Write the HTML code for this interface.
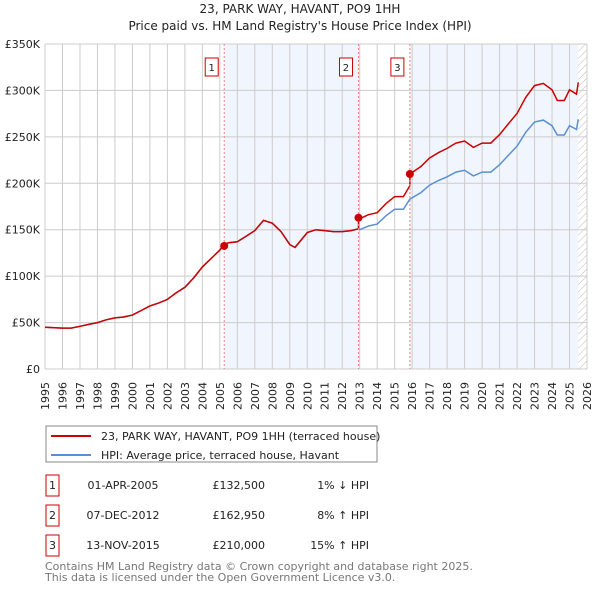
<!DOCTYPE html>
<html><head><meta charset="utf-8"><style>
body{margin:0;background:#fff;font-family:"Liberation Sans","DejaVu Sans",sans-serif;}
svg text{font-family:"DejaVu Sans","Liberation Sans",sans-serif;}
</style></head><body>
<svg id="c" width="600" height="590" xmlns="http://www.w3.org/2000/svg">
<text x="300" y="13" text-anchor="middle" font-size="12" fill="#222">23, PARK WAY, HAVANT, PO9 1HH</text>
<text x="300" y="30" text-anchor="middle" font-size="12" fill="#222">Price paid vs. HM Land Registry's House Price Index (HPI)</text>
<defs><pattern id="hatch" width="5" height="5" patternUnits="userSpaceOnUse" patternTransform="rotate(45)"><line x1="0" y1="0" x2="0" y2="5" stroke="#bbb" stroke-width="1"/></pattern></defs>
<g id="bg"></g><g id="grid"></g><g id="axes"></g><g id="lines"></g><g id="marks"></g>
<g>
<rect x="46" y="426" width="331" height="36" fill="#fff" stroke="#888"/>
<line x1="51" y1="436" x2="91" y2="436" stroke="#cc0000" stroke-width="2"/>
<text x="101" y="440" font-size="11" fill="#222">23, PARK WAY, HAVANT, PO9 1HH (terraced house)</text>
<line x1="51" y1="455" x2="91" y2="455" stroke="#5b8fd4" stroke-width="2"/>
<text x="101" y="459" font-size="11" fill="#222">HPI: Average price, terraced house, Havant</text>
</g>
<g id="table" font-size="11" fill="#222"></g>
<text x="45" y="570" font-size="11" fill="#777">Contains HM Land Registry data © Crown copyright and database right 2025.</text>
<text x="45" y="581" font-size="11" fill="#777">This data is licensed under the Open Government Licence v3.0.</text>
</svg>
<script>
const hpiT=[1995,1996,1996.5,1997,1997.5,1998,1998.5,1999,1999.5,2000,2000.5,2001,2001.5,2002,2002.5,2003,2003.5,2004,2004.5,2005,2005.25,2005.5,2006,2006.5,2007,2007.5,2008,2008.5,2009,2009.3,2009.7,2010,2010.5,2011,2011.5,2012,2012.5,2012.93,2013,2013.5,2014,2014.5,2015,2015.5,2015.87,2016.5,2017,2017.5,2018,2018.5,2019,2019.5,2020,2020.5,2021,2021.5,2022,2022.5,2023,2023.5,2024,2024.3,2024.7,2025,2025.4,2025.5];
const hpiV=[45,44,44,46,48,50,53,55,56,58,63,68,71,75,82,88,98,110,119,128,134,136,137,143,149,160,157,148,134,131,140,147,150,149,148,148,149,151,150,154,156,165,172,172,183,190,198,203,207,212,214,208,212,212,220,230,240,255,266,268,262,252,252,262,258,269];
const saleT=[2005.25,2012.93,2015.87];
const saleV=[132.5,162.95,210];
const saleLabel=["1","2","3"];
const saleDate=["01-APR-2005","07-DEC-2012","13-NOV-2015"];
const salePrice=["£132,500","£162,950","£210,000"];
const saleDiff=["1% ↓ HPI","8% ↑ HPI","15% ↑ HPI"];
const yTicks=[0,50,100,150,200,250,300,350];
const yTickLabels=["£0","£50K","£100K","£150K","£200K","£250K","£300K","£350K"];
const years=[1995,1996,1997,1998,1999,2000,2001,2002,2003,2004,2005,2006,2007,2008,2009,2010,2011,2012,2013,2014,2015,2016,2017,2018,2019,2020,2021,2022,2023,2024,2025,2026];
const X0=45,X1=587,Y0=369,Y1=44,T0=1995,T1=2026,VMAX=350,TEND=2025.5;
const xs=t=>X0+(t-T0)/(T1-T0)*(X1-X0);
const ys=v=>Y0-v/VMAX*(Y0-Y1);
const NS="http://www.w3.org/2000/svg";
function mk(tag,attrs,parent){const e=document.createElementNS(NS,tag);for(const k in attrs)e.setAttribute(k,attrs[k]);document.getElementById(parent).appendChild(e);return e;}
let e;
e=mk('rect',{x:xs(saleT[0]),y:Y1,width:xs(saleT[1])-xs(saleT[0]),height:Y0-Y1,fill:'#eef3fc',opacity:0.8},'bg');


e=mk('rect',{x:xs(saleT[2]),y:Y1,width:xs(TEND)-xs(saleT[2]),height:Y0-Y1,fill:'#eef3fc',opacity:0.8},'bg');


e=mk('rect',{x:xs(TEND),y:Y1,width:X1-xs(TEND),height:Y0-Y1,fill:'url(#hatch)'},'bg');


years.forEach((y,i)=>{
 e=mk('line',{x1:xs(y),x2:xs(y),y1:Y1,y2:Y0,stroke:'#ccc','stroke-width':1},'grid');
 
 
 const lx=xs(y)+4;
 e=mk('text',{x:lx,y:382,'text-anchor':'end','font-size':11,fill:'#222',transform:'rotate(-90 '+lx+' 382)'},'axes');
 e.textContent=y;
 
 
});
yTicks.forEach((v,i)=>{
 e=mk('line',{x1:X0,x2:X1,y1:ys(v),y2:ys(v),stroke:'#ccc','stroke-width':1},'grid');
 
 
 e=mk('text',{x:40,y:ys(v)+4,'text-anchor':'end','font-size':11,fill:'#222'},'axes');
 e.textContent=yTickLabels[i];
 
 
});
e=mk('line',{x1:X0,x2:X0,y1:Y1,y2:Y0,stroke:'#ccc'},'axes');


e=mk('line',{x1:X0,x2:X1,y1:Y0,y2:Y0,stroke:'#ccc'},'axes');


function interp(t){for(let i=1;i<hpiT.length;i++){if(t<=hpiT[i]){const a=(t-hpiT[i-1])/(hpiT[i]-hpiT[i-1]);return hpiV[i-1]+a*(hpiV[i]-hpiV[i-1]);}}return hpiV[hpiV.length-1];}
// red series: HPI scaled by factor of most recent sale (from sale 2 onward)
function redVal(t,v){for(let i=saleT.length-1;i>=1;i--){if(t>=saleT[i]){return v*saleV[i]/interp(saleT[i]);}}return v;}
let dh='',dr='';
hpiT.forEach((t,i)=>{dh+=(i?'L':'M')+xs(t).toFixed(1)+','+ys(hpiV[i]).toFixed(1);});
let pts=[];hpiT.forEach((t,i)=>pts.push([t,hpiV[i]]));saleT.forEach(t=>{pts.push([t-0.001,interp(t)]);pts.push([t,interp(t)]);});
pts.sort((a,b)=>a[0]-b[0]);
pts.forEach((p,i)=>{dr+=(i?'L':'M')+xs(p[0]).toFixed(1)+','+ys(redVal(p[0],p[1])).toFixed(1);});
e=mk('path',{d:dh,fill:'none',stroke:'#5b8fd4','stroke-width':1.5},'lines');


e=mk('path',{d:dr,fill:'none',stroke:'#cc0000','stroke-width':1.5},'lines');


saleT.forEach((t,i)=>{
 e=mk('line',{x1:xs(t),x2:xs(t),y1:Y1,y2:Y0,stroke:'#f08080','stroke-dasharray':'2,2'},'marks');
 
 
 e=mk('circle',{cx:xs(t),cy:ys(saleV[i]),r:4,fill:'#cc0000'},'marks');
 
 
 e=mk('rect',{x:xs(t)-19,y:58,width:13,height:18,fill:'#fff',stroke:'#cc0000'},'marks');
 
 
 e=mk('text',{x:xs(t)-12.5,y:71,'text-anchor':'middle','font-size':10,fill:'#222'},'marks');
 e.textContent=saleLabel[i];
 
 
 const ry=485+i*30;
 e=mk('rect',{x:46,y:ry-10,width:13,height:21,fill:'#fff',stroke:'#cc0000'},'table');
 
 
 e=mk('text',{x:52.5,y:ry+4,'text-anchor':'middle'},'table');
 e.textContent=saleLabel[i];
 
 
 e=mk('text',{x:123,y:ry+4,'text-anchor':'middle'},'table');
 e.textContent=saleDate[i];
 
 
 e=mk('text',{x:265,y:ry+4,'text-anchor':'end'},'table');
 e.textContent=salePrice[i];
 
 
 e=mk('text',{x:369,y:ry+4,'text-anchor':'end'},'table');
 e.textContent=saleDiff[i];
 
 
});
</script>
</body></html>
